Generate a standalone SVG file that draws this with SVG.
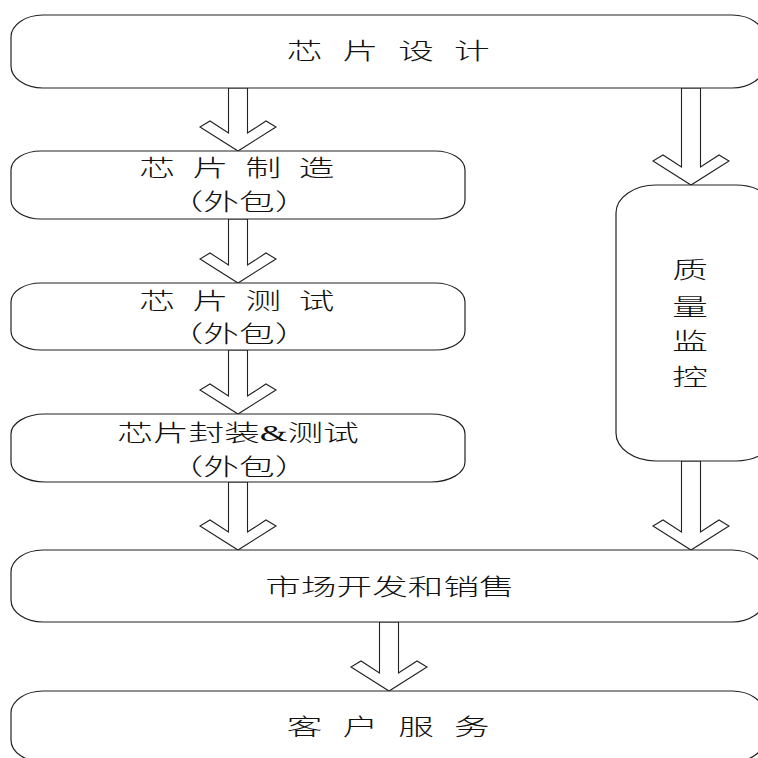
<svg xmlns="http://www.w3.org/2000/svg" width="758" height="758" viewBox="0 0 758 758">
<style>
.box{fill:#fff;stroke:#222;stroke-width:1.2}
.arr{fill:#fff;stroke:#222;stroke-width:1.1;stroke-linejoin:miter}
.t{font-family:"Liberation Serif","Noto Sans CJK SC",serif;font-size:23px;font-weight:300;fill:#111;text-anchor:middle}
.sp{letter-spacing:3.6px}
.sp2{letter-spacing:2.8px}
</style>
<rect width="758" height="758" fill="#fff"/>
<g id="connectors">
<polygon class="arr" points="228.5,88 247.5,88 247.5,133 266,121 276,127 238,151 200,127 210,121 228.5,133"/>
<polygon class="arr" points="228.5,219 247.5,219 247.5,265 266,253 276,259 238,283 200,259 210,253 228.5,265"/>
<polygon class="arr" points="228.5,350 247.5,350 247.5,396 266,384 276,390 238,414 200,390 210,384 228.5,396"/>
<polygon class="arr" points="228.5,482 247.5,482 247.5,532 266,520 276,526 238,550 200,526 210,520 228.5,532"/>
<polygon class="arr" points="379.5,622 398.5,622 398.5,673 417,661 427,667 389,691 351,667 361,661 379.5,673"/>
<polygon class="arr" points="681.5,88 700.5,88 700.5,167 719,155 729,161 691,185 653,161 663,155 681.5,167"/>
<polygon class="arr" points="681.5,461 700.5,461 700.5,532 719,520 729,526 691,550 653,526 663,520 681.5,532"/>
</g>
<g id="design">
<rect class="box" x="11" y="15" width="753" height="73" rx="32" ry="22"/>
<text class="t sp" transform="translate(391,59) scale(1.55,1)">芯 片 设 计</text>
</g>
<g id="manufacture">
<rect class="box" x="11" y="151" width="454" height="68" rx="30" ry="19"/>
<text class="t sp2" transform="translate(239,176) scale(1.55,1)">芯 片 制 造</text>
<text class="t" transform="translate(239,210) scale(1.55,1)">（外包）</text>
</g>
<g id="test">
<rect class="box" x="11" y="283" width="454" height="67" rx="30" ry="19"/>
<text class="t sp2" transform="translate(239,309) scale(1.55,1)">芯 片 测 试</text>
<text class="t" transform="translate(239,342) scale(1.55,1)">（外包）</text>
</g>
<g id="package">
<rect class="box" x="11" y="414" width="454" height="68" rx="34" ry="20"/>
<text class="t" transform="translate(238,441) scale(1.55,1)">芯片封装&amp;测试</text>
<text class="t" transform="translate(239,475) scale(1.55,1)">（外包）</text>
</g>
<g id="qc">
<rect class="box" x="616" y="185" width="160" height="276" rx="40" ry="28"/>
<text class="t" transform="translate(690,278) scale(1.55,1)">质</text>
<text class="t" transform="translate(690,315) scale(1.55,1)">量</text>
<text class="t" transform="translate(690,349) scale(1.55,1)">监</text>
<text class="t" transform="translate(690,385) scale(1.55,1)">控</text>
</g>
<g id="sales">
<rect class="box" x="11" y="550" width="753" height="72" rx="32" ry="22"/>
<text class="t" transform="translate(390,595) scale(1.55,1)">市场开发和销售</text>
</g>
<g id="service">
<rect class="box" x="11" y="691" width="753" height="71" rx="32" ry="22"/>
<text class="t sp" transform="translate(391,735) scale(1.55,1)">客 户 服 务</text>
</g>
</svg>
